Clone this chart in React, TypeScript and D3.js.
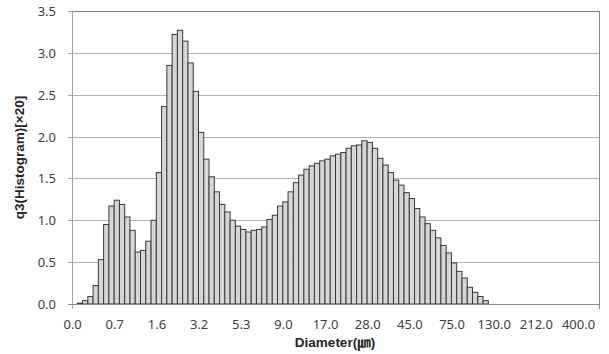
import React from "react";
import * as d3 from "d3";

// Histogram values per size class (class 0 .. 78); classes 79..99 are empty
const values: number[] = [
  0.0, 0.01, 0.04, 0.09, 0.22, 0.53, 0.95, 1.17, 1.24, 1.19,
  1.04, 0.88, 0.62, 0.64, 0.75, 1.0, 1.57, 2.36, 2.85, 3.22,
  3.27, 3.14, 2.88, 2.54, 2.05, 1.73, 1.52, 1.34, 1.19, 1.1,
  1.0, 0.93, 0.89, 0.86, 0.88, 0.89, 0.92, 1.01, 1.06, 1.17,
  1.22, 1.34, 1.45, 1.54, 1.61, 1.65, 1.68, 1.71, 1.73, 1.77,
  1.79, 1.81, 1.86, 1.89, 1.9, 1.95, 1.93, 1.86, 1.74, 1.66,
  1.57, 1.48, 1.42, 1.33, 1.26, 1.14, 1.04, 0.96, 0.88, 0.79,
  0.7, 0.61, 0.49, 0.39, 0.31, 0.2, 0.14, 0.09, 0.04,
];
const categoryCount = 100;
const labelEvery = 8;
const tickLabels: string[] = [
  "0.0", "0.7", "1.6", "3.2", "5.3", "9.0", "17.0", "28.0", "45.0", "75.0", "130.0", "212.0", "400.0",
];
const yTicks: number[] = [0, 0.5, 1, 1.5, 2, 2.5, 3, 3.5];
const xTitle = "Diameter(㎛)";
const yTitle = "q3(Histogram)[×20]";

const W = 609;
const H = 354;
const left = 72;
const right = 599;
const top = 11;
const bottom = 304;

export default function App() {
  const categories = d3.range(categoryCount);
  const x = d3.scaleBand<number>().domain(categories).range([left, right]).paddingInner(0).paddingOuter(0);
  const y = d3.scaleLinear().domain([0, 3.5]).range([bottom, top]);
  const tickFont = "'Noto Sans', 'Open Sans', sans-serif";
  const titleFont = "'Liberation Sans', Arial, 'Noto Sans CJK KR', sans-serif";

  return (
    <svg
      width={W}
      height={H}
      style={{ position: "absolute", left: 0, top: 0, background: "#fff" }}
    >
      <rect x={0} y={0} width={W} height={H} fill="#fff" />
      {/* gridlines */}
      {yTicks.map((t) => (
        <line
          key={"g" + t}
          x1={left}
          x2={right}
          y1={Math.round(y(t)) + 0.5}
          y2={Math.round(y(t)) + 0.5}
          stroke={t === 3.5 ? "#7f7f7f" : "#b3b3b3"}
          strokeWidth={1}
        />
      ))}
      {/* right border */}
      <line x1={right + 0.5} x2={right + 0.5} y1={top} y2={bottom + 5} stroke="#8c8c8c" />
      {/* bars */}
      {values.map((v, i) =>
        v > 0 ? (
          <rect
            key={"b" + i}
            x={x(i)!}
            y={y(v)}
            width={x.bandwidth()}
            height={y(0) - y(v)}
            fill="#d6d6d6"
            stroke="#3a3a3a"
            strokeWidth={1}
          />
        ) : null
      )}
      {/* y axis */}
      <line x1={left + 0.5} x2={left + 0.5} y1={top} y2={bottom + 5} stroke="#a6a6a6" />
      {yTicks.map((t) => (
        <g key={"yt" + t}>
          <line
            x1={left - 4}
            x2={left}
            y1={Math.round(y(t)) + 0.5}
            y2={Math.round(y(t)) + 0.5}
            stroke="#a6a6a6"
          />
          <text
            x={56}
            y={y(t)}
            textAnchor="end"
            dominantBaseline="central"
            fontFamily={tickFont}
            fontSize={13}
            fill="#404040"
          >
            {t.toFixed(1)}
          </text>
        </g>
      ))}
      {/* x axis */}
      <line x1={left - 4} x2={right} y1={bottom + 0.5} y2={bottom + 0.5} stroke="#8c8c8c" />
      {tickLabels.map((lab, k) => {
        const c = k * labelEvery;
        return (
          <text
            key={"xl" + k}
            x={x(c)! + x.bandwidth() / 2 - 2}
            y={324}
            textAnchor="middle"
            dominantBaseline="central"
            fontFamily={tickFont}
            fontSize={13}
            fill="#404040"
          >
            {lab}
          </text>
        );
      })}
      {/* titles */}
      <text
        x={335}
        y={342}
        textAnchor="middle"
        dominantBaseline="central"
        fontFamily={titleFont}
        fontWeight="bold"
        fontSize={13.5}
        fill="#262626"
      >
        {xTitle}
      </text>
      <text
        transform={`translate(19,${(top + bottom) / 2}) rotate(-90)`}
        textAnchor="middle"
        dominantBaseline="central"
        fontFamily={titleFont}
        fontWeight="bold"
        fontSize={13.5}
        fill="#262626"
      >
        {yTitle}
      </text>
    </svg>
  );
}
